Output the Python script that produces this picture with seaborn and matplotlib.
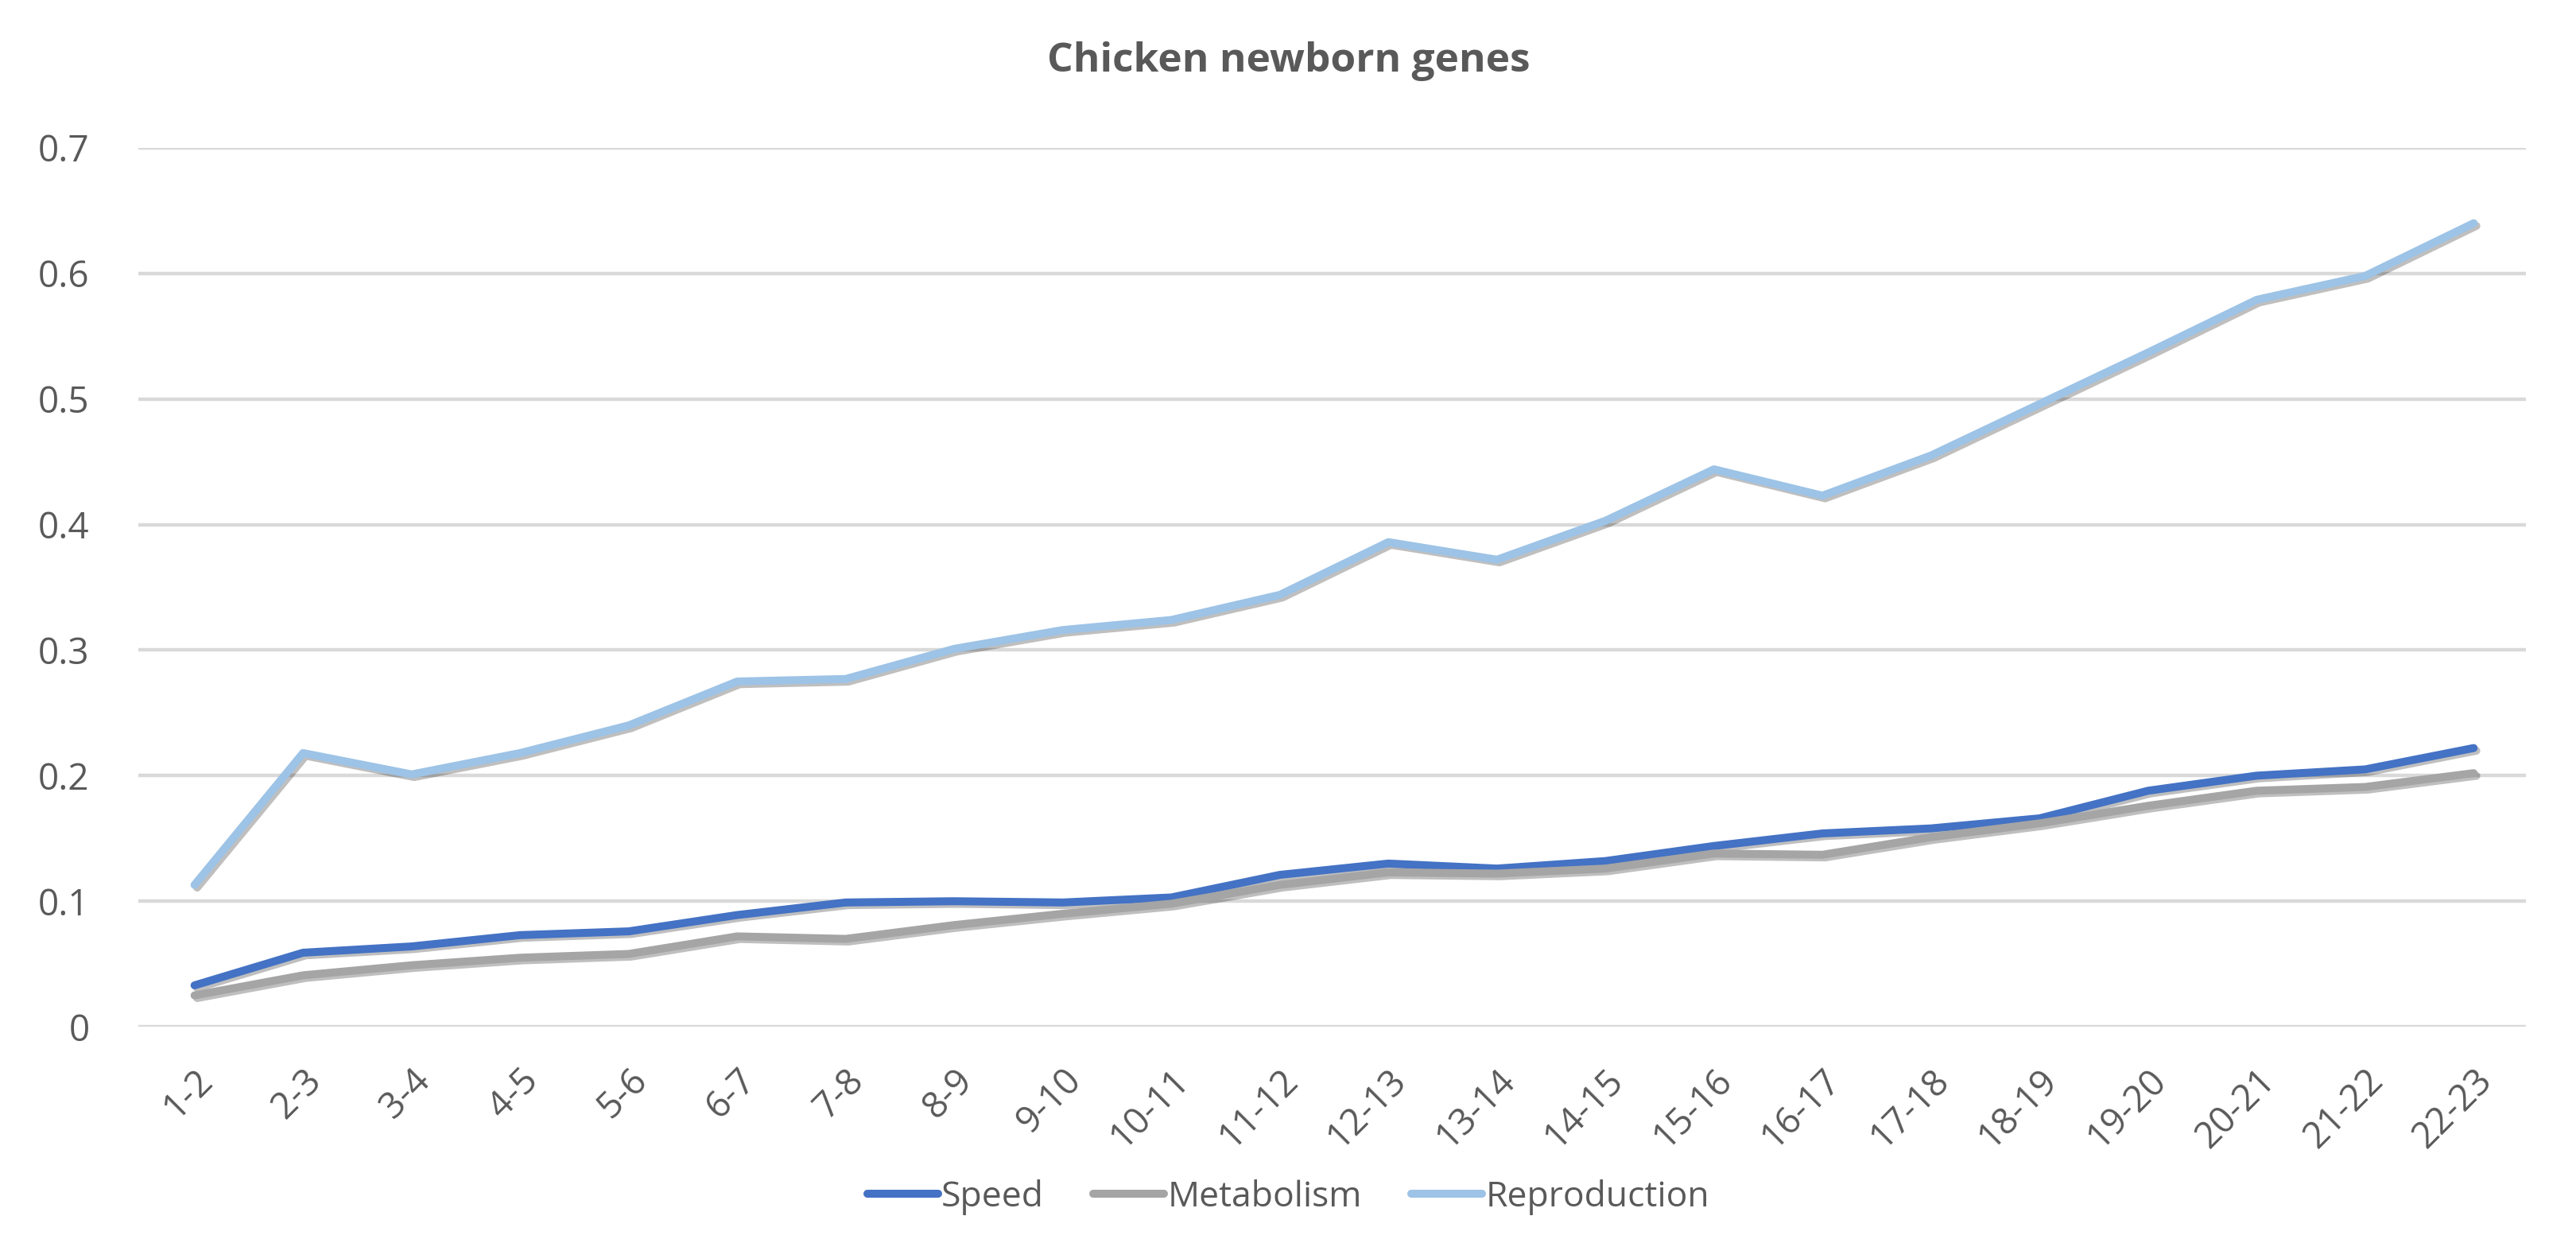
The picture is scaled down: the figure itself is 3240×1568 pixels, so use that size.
import numpy as np
import pandas as pd
import matplotlib
matplotlib.use("Agg")
import matplotlib.pyplot as plt
import matplotlib.patheffects as pe
import seaborn as sns

# datos
periods = ["1-2", "2-3", "3-4", "4-5", "5-6", "6-7", "7-8", "8-9", "9-10", "10-11", "11-12",
           "12-13", "13-14", "14-15", "15-16", "16-17", "17-18", "18-19", "19-20", "20-21",
           "21-22", "22-23"]

speed = [0.033, 0.059, 0.064, 0.073, 0.076, 0.089, 0.099, 0.100, 0.099, 0.103, 0.121,
         0.130, 0.126, 0.132, 0.144, 0.154, 0.158, 0.166, 0.188, 0.200, 0.205, 0.222]

metabolism = [0.025, 0.041, 0.049, 0.055, 0.058, 0.072, 0.070, 0.081, 0.090, 0.098, 0.113,
              0.123, 0.122, 0.126, 0.138, 0.137, 0.151, 0.162, 0.176, 0.188, 0.191, 0.202]

reproduction = [0.113, 0.218, 0.201, 0.218, 0.240, 0.275, 0.277, 0.301, 0.316, 0.324, 0.344,
                0.386, 0.372, 0.403, 0.444, 0.423, 0.455, 0.496, 0.537, 0.579, 0.598, 0.640]

series_names = ["Speed", "Metabolism", "Reproduction"]
colors = ["#4472C4", "#A5A5A5", "#9DC3E6"]

df = pd.DataFrame({"period": periods * 3,
                   "value": speed + metabolism + reproduction,
                   "serie": np.repeat(series_names, len(periods))})
df["x"] = list(range(len(periods))) * 3

sns.set_theme(style="white")
plt.rcParams["font.family"] = ["Open Sans", "DejaVu Sans"]
txt = "#595959"

fig = plt.figure(figsize=(16.205, 7.84), dpi=200)
ax = fig.add_axes([0.0536, 0.1766, 0.9266, 0.7048])

sns.lineplot(data=df, x="x", y="value", hue="serie", palette=colors,
             linewidth=3.6, ax=ax, legend=False, sort=False)

for line in ax.get_lines():
    line.set_solid_capstyle("round")
    line.set_path_effects([pe.SimpleLineShadow(offset=(1.2, -1.2), shadow_color="black", alpha=0.25),
                           pe.Normal()])

ax.set_xlim(-0.52, len(periods) - 0.52)
ax.set_ylim(0, 0.7)
ax.set_yticks(np.arange(0, 0.71, 0.1))
ax.set_yticklabels(["0", "0.1", "0.2", "0.3", "0.4", "0.5", "0.6", "0.7"])
ax.set_xticks(range(len(periods)))
ax.set_xticklabels(periods, rotation=45, ha="right", rotation_mode="anchor")
ax.tick_params(axis="both", colors=txt, labelsize=16.5, length=0)
ax.tick_params(axis="x", pad=16)
ax.tick_params(axis="y", pad=22)
ax.grid(axis="y", color="#D9D9D9", linewidth=1.6)
ax.set_axisbelow(True)
for s in ax.spines.values():
    s.set_visible(False)
ax.set_xlabel("")
ax.set_ylabel("")

fig.text(0.5, 0.951, "Chicken newborn genes", ha="center", va="center",
         fontsize=18.5, fontweight="bold", color=txt)

handles = [plt.Line2D([], [], color=c, linewidth=3.6, solid_capstyle="round") for c in colors]
fig.legend(handles, series_names, loc="center", bbox_to_anchor=(0.5, 0.04), ncol=3,
           frameon=False, fontsize=16, labelcolor=txt, handlelength=2.0,
           handletextpad=0.1, columnspacing=1.4)

fig.savefig("out.png", dpi=200)
